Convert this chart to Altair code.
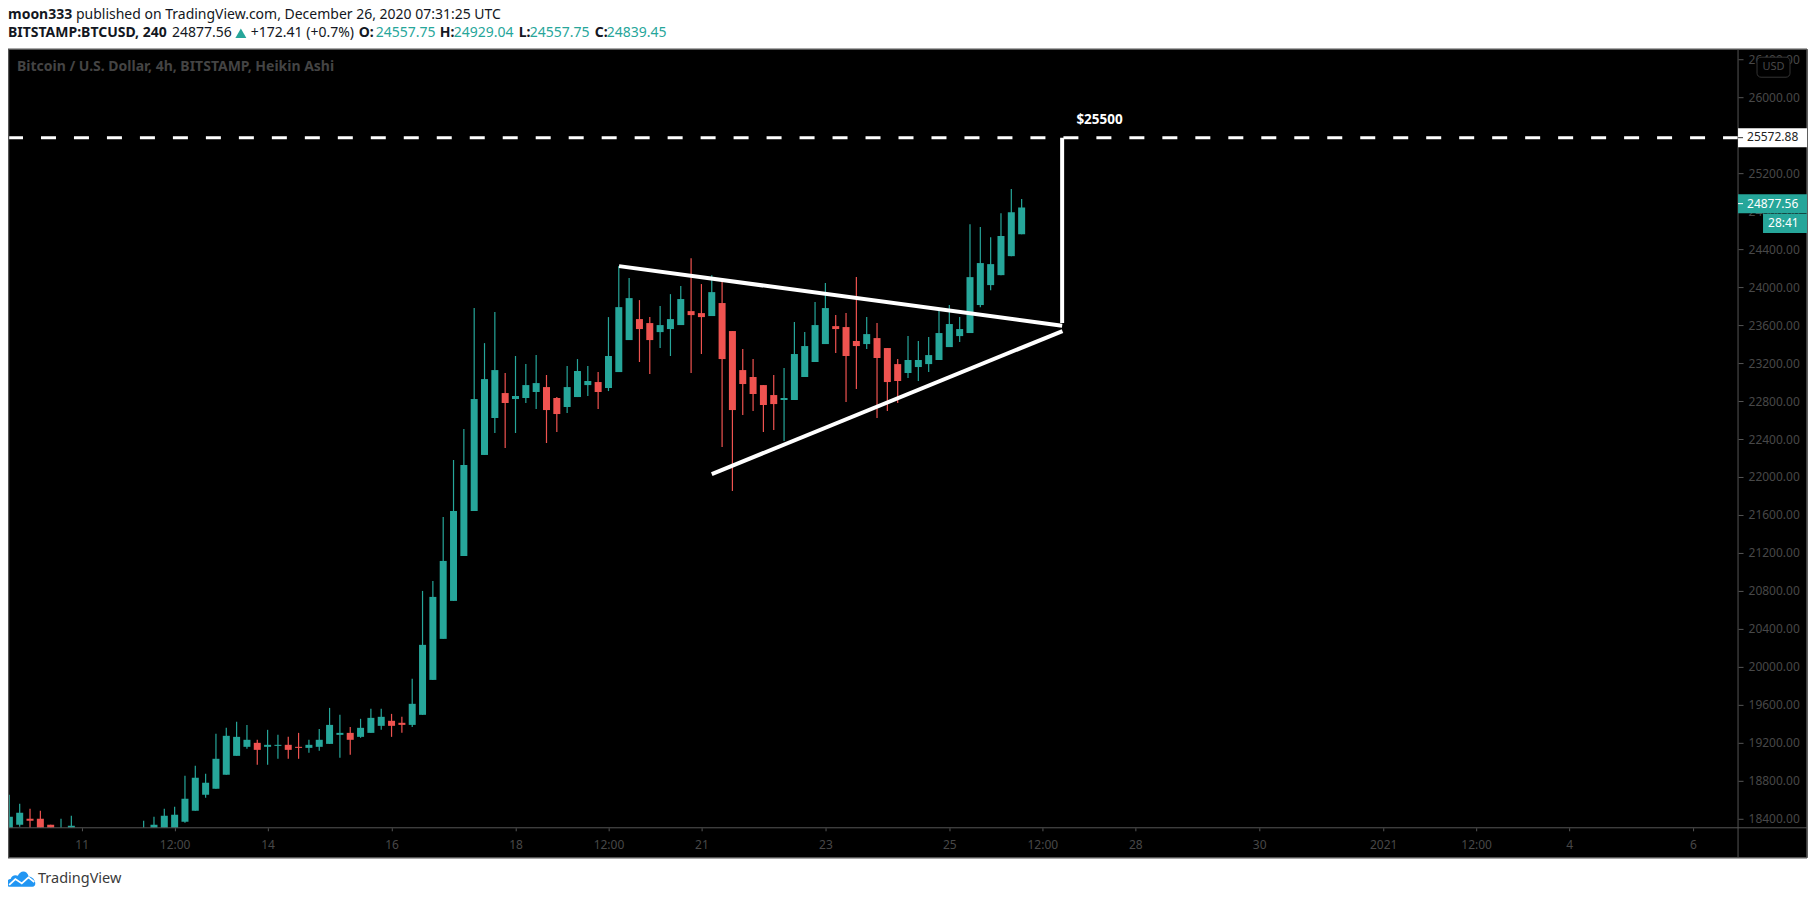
import altair as alt
import pandas as pd

# ---------- candles (4h Heikin Ashi) ----------
bar_open = [18250,18337,18400,18400,18337,18230,18270,18210,18260,18200,18170,18220,18250,18240,18270,18280,18290,18368,18484,18653,
            18716,18863,19063,19158,19200,19158,19168,19179,19158,19147,19158,19189,19284,19305,19263,19305,19379,19432,19411,19389,
            19495,19863,20295,20695,21168,21642,22232,22621,22884,22821,22832,22895,22947,22832,22737,22842,22968,23000,22937,23105,
            23442,23663,23621,23526,23558,23600,23747,23726,23695,23832,23537,23126,23053,22968,22863,22811,22811,23053,23211,23400,
            23589,23579,23432,23400,23463,23358,23189,23095,23158,23189,23232,23368,23484,23516,23811,24021,24126,24326,24557.75]
bar_high = [18653,18558,18505,18484,18337,18400,18432,18280,18285,18240,18250,18270,18290,18379,18421,18505,18526,18853,18958,18874,
            19295,19358,19421,19389,19232,19337,19284,19263,19305,19232,19347,19568,19495,19368,19453,19558,19558,19505,19474,19874,
            20800,20905,21579,22179,22505,23779,23410,23737,23095,23274,23189,23284,23074,22842,23168,23242,23168,23105,23684,24221,
            24095,23863,23684,23800,23926,24011,24305,24032,24126,24095,23537,23347,23242,22968,23074,23147,23632,23526,23842,24042,
            23705,23726,24105,23684,23621,23358,23242,23484,23432,23474,23747,23811,23684,24663,24632,24526,24779,25032,24929.04]
bar_low = [18200,18316,18250,18230,18230,18200,18240,18190,18180,18150,18140,18190,18220,18210,18240,18250,18270,18358,18484,18621,
           18716,18863,19063,19137,18968,18968,19032,19032,19032,19095,19116,19189,19042,19074,19253,19305,19337,19263,19305,19368,
           19495,19863,20295,20695,21168,21642,22232,22463,22305,22463,22779,22716,22358,22474,22674,22842,22853,22716,22905,23105,
           23442,23211,23084,23358,23274,23600,23095,23295,23695,22316,21853,22653,22695,22474,22495,22379,22811,23053,23211,23400,
           23305,22789,22926,23347,22621,22695,22779,23042,23011,23105,23232,23368,23421,23516,23789,23968,24126,24326,24557.75]
bar_close = [18421,18463,18379,18280,18270,18290,18326,18260,18200,18170,18220,18250,18270,18290,18337,18432,18442,18611,18832,18779,
             19032,19274,19263,19232,19126,19179,19179,19126,19147,19179,19232,19389,19305,19232,19358,19463,19474,19379,19389,19611,
             20232,20737,21116,21642,22126,22821,23031,23126,22779,22853,22968,22989,22705,22663,22947,23116,23011,22895,23274,23789,
             23884,23558,23442,23600,23663,23874,23705,23684,23947,23242,22705,22979,22874,22758,22768,22832,23295,23379,23600,23779,
             23558,23274,23379,23505,23253,23000,23011,23232,23232,23284,23516,23611,23558,24105,24253,24242,24537,24789,24839.45]

first_bar = "2020-12-09T20:00:00Z"
x_domain = ["2020-12-09T19:28:15Z", "2021-01-06T17:25:26Z"]
y_domain = [18305.3, 26505.3]

x_ticks = ["2020-12-11","2020-12-12T12:00","2020-12-14","2020-12-16","2020-12-18","2020-12-19T12:00",
           "2020-12-21","2020-12-23","2020-12-25","2020-12-26T12:00","2020-12-28","2020-12-30",
           "2021-01-01","2021-01-02T12:00","2021-01-04","2021-01-06"]
y_ticks = [18400,18800,19200,19600,20000,20400,20800,21200,21600,22000,22400,22800,
           23200,23600,24000,24400,24800,25200,25600,26000,26400]

# drawings: (segment, time, price)
seg_name = ["top","top","low","low","up","up"]
seg_time = ["2020-12-19T16:06:00Z","2020-12-26T19:41:00Z",
            "2020-12-21T04:00:00Z","2020-12-26T19:49:00Z",
            "2020-12-26T19:41:00Z","2020-12-26T19:41:00Z"]
seg_price = [24221,23593,22031,23537,23621,25572.88]
level_price = [25572.88]
target_text = "$25500"

GREEN = "#26a69a"
RED = "#ef5350"
AXIS = "#484848"
LINE = "#555555"
FONT = "Noto Sans"

def ms(s):
    ts = pd.Timestamp(s)
    ts = ts.tz_localize("UTC") if ts.tzinfo is None else ts
    return int(ts.value // 10**6)

xs = alt.Scale(type="utc", domain=[ms(v) for v in x_domain], padding=0)
ys = alt.Scale(domain=y_domain, nice=False, zero=False, padding=0)

bars = pd.DataFrame({
    "t": pd.date_range(first_bar, periods=len(bar_open), freq="4h").strftime("%Y-%m-%dT%H:%M:%SZ"),
    "o": bar_open, "h": bar_high, "l": bar_low, "c": bar_close,
})
bars["dir"] = ["up" if c >= o else "down" for o, c in zip(bar_open, bar_close)]
color = alt.Color("dir:N", scale=alt.Scale(domain=["up", "down"], range=[GREEN, RED]), legend=None)

x_axis = alt.Axis(
    values=[ms(v) for v in x_ticks], title=None, grid=False, domain=False,
    tickColor=LINE, tickSize=3, labelColor=AXIS, labelFont=FONT, labelFontSize=12, labelPadding=9,
    labelAngle=0, labelOverlap=False, labelFlush=False,
    labelExpr="utcFormat(datum.value,'%H')=='12' ? '12:00' : (utcFormat(datum.value,'%d')=='01' ? '2021' : utcFormat(datum.value,'%-d'))",
)
y_axis = alt.Axis(
    values=y_ticks, orient="right", title=None, grid=False, domain=False, format=".2f",
    tickColor=LINE, tickSize=5, labelColor=AXIS, labelFont=FONT, labelFontSize=12, labelPadding=5,
    labelOverlap=False, labelFlush=False,
)

base = alt.Chart(pd.DataFrame({"k": [0]}))

def box(x0, x1, y0, y1, fill, **kw):
    return base.mark_rect(fill=fill, **kw).encode(
        x=alt.value(x0 - 8), x2=alt.value(x1 - 8), y=alt.value(y0 - 49), y2=alt.value(y1 - 49))

def hline(x0, x1, y, c, w=1):
    return base.mark_rule(color=c, strokeWidth=w).encode(
        x=alt.value(x0 - 8), x2=alt.value(x1 - 8), y=alt.value(y - 49))

def vline(x, y0, y1, c, w=1):
    return base.mark_rule(color=c, strokeWidth=w).encode(
        x=alt.value(x - 8), y=alt.value(y0 - 49), y2=alt.value(y1 - 49))

def label(s, x, y, c="#131722", size=14, weight="normal", align="left"):
    return base.mark_text(text=s, align=align, baseline="middle", font=FONT, fontSize=size,
                          color=c, fontWeight=weight).encode(
        x=alt.value(x - 8), y=alt.value(y - 49))

wicks = alt.Chart(bars).mark_rule(strokeWidth=1.2, clip=True).encode(
    x=alt.X("t:T", scale=xs, axis=x_axis),
    y=alt.Y("h:Q", scale=ys, axis=y_axis), y2="l:Q", color=color)
bodies = alt.Chart(bars).mark_bar(size=7, clip=True).encode(
    x=alt.X("t:T", scale=xs, axis=x_axis),
    y=alt.Y("o:Q", scale=ys, axis=y_axis), y2="c:Q", color=color)

segs = pd.DataFrame({"seg": seg_name, "t": seg_time, "p": seg_price, "i": range(len(seg_name))})
trend = alt.Chart(segs).mark_line(color="white", strokeWidth=4).encode(
    x=alt.X("t:T", scale=xs, axis=x_axis), y=alt.Y("p:Q", scale=ys, axis=y_axis),
    detail="seg:N", order="i:Q")
level = alt.Chart(pd.DataFrame({"p": level_price})).mark_rule(
    color="white", strokeWidth=3, strokeDash=[15, 18]).encode(
    y=alt.Y("p:Q", scale=ys, axis=y_axis), x=alt.value(0), x2=alt.value(1731))

CLOUD = ("M-0.8 0.55 C-1.12 0.55 -1.12 0.05 -0.75 0.02 C-0.7 -0.25 -0.4 -0.3 -0.25 -0.2 "
         "C-0.1 -0.62 0.4 -0.62 0.5 -0.15 C0.9 -0.15 1.15 0.5 0.75 0.55 Z")
WAVE = "M-0.85 0.42 L-0.42 0.02 L0.02 0.32 L0.48 -0.1 L0.88 0.22"
logo_fill = base.mark_point(shape=CLOUD, size=841, filled=True, fill="#2196f3", opacity=1, strokeWidth=0).encode(
    x=alt.value(21.5 - 8), y=alt.value(879 - 49))
logo_wave = base.mark_point(shape=WAVE, size=841, filled=False, stroke="white", strokeWidth=1.8, opacity=1).encode(
    x=alt.value(21.5 - 8), y=alt.value(879 - 49))

layers = [
    wicks, bodies, trend, level,
    # page strips over the black canvas
    box(0, 1816, 0, 49, "white"),
    box(0, 1816, 858, 900, "white"),
    box(1808.5, 1816, 0, 900, "white"),
    hline(8, 1808, 49, LINE, 1.5),
    hline(8, 1808, 858, LINE, 1.5),
    vline(8.5, 49, 858, LINE, 1.5),
    vline(1808, 49, 858, LINE, 1.5),
    hline(8, 1808, 828, LINE),
    vline(1739, 49, 858, LINE),
    label(target_text, 1077, 120, "white", 13.5, "bold"),
    label("Bitcoin / U.S. Dollar, 4h, BITSTAMP, Heikin Ashi", 17, 67, "#444444", 14, "bold"),
    # header
    label("moon333", 8, 15, weight="bold"),
    label("published on TradingView.com, December 26, 2020 07:31:25 UTC", 76, 15),
    label("BITSTAMP:BTCUSD, 240", 8, 33, weight="bold"),
    label("24877.56", 172, 33),
    base.mark_point(shape="triangle-up", size=120, filled=True, fill=GREEN, opacity=1).encode(
        x=alt.value(241 - 8), y=alt.value(33 - 49)),
    label("+172.41 (+0.7%)", 251, 33),
    label("O:", 359, 33, weight="bold"), label("24557.75", 376, 33, GREEN),
    label("H:", 440, 33, weight="bold"), label("24929.04", 454, 33, GREEN),
    label("L:", 519, 33, weight="bold"), label("24557.75", 530, 33, GREEN),
    label("C:", 595, 33, weight="bold"), label("24839.45", 607, 33, GREEN),
    # price tags
    box(1739, 1808, 128, 147, "white"),
    hline(1739, 1744, 137.5, "#333333"),
    label("25572.88", 1748, 137, "#222222", 12),
    box(1739, 1808, 194, 213, GREEN),
    hline(1739, 1744, 203.5, "white"),
    label("24877.56", 1748, 203.5, "white", 12),
    box(1764, 1808, 213.5, 233, GREEN),
    label("28:41", 1769, 223, "white", 12),
    box(1758, 1791, 57, 77, "black", stroke="#333333", strokeWidth=1, cornerRadius=4),
    label("USD", 1774.5, 67, AXIS, 11, align="center"),
    # footer
    logo_fill, logo_wave,
    label("TradingView", 38, 879, "#3a3a3a", 14.5),
]

chart = alt.layer(*layers).properties(
    width=1731, height=779, background="black",
    padding={"left": 0, "top": 41, "right": 70, "bottom": 62},
    autosize=alt.AutoSizeParams(type="none"),
).configure_view(stroke=None)

chart.save("out.html", embed_options={"renderer": "svg", "actions": False})
